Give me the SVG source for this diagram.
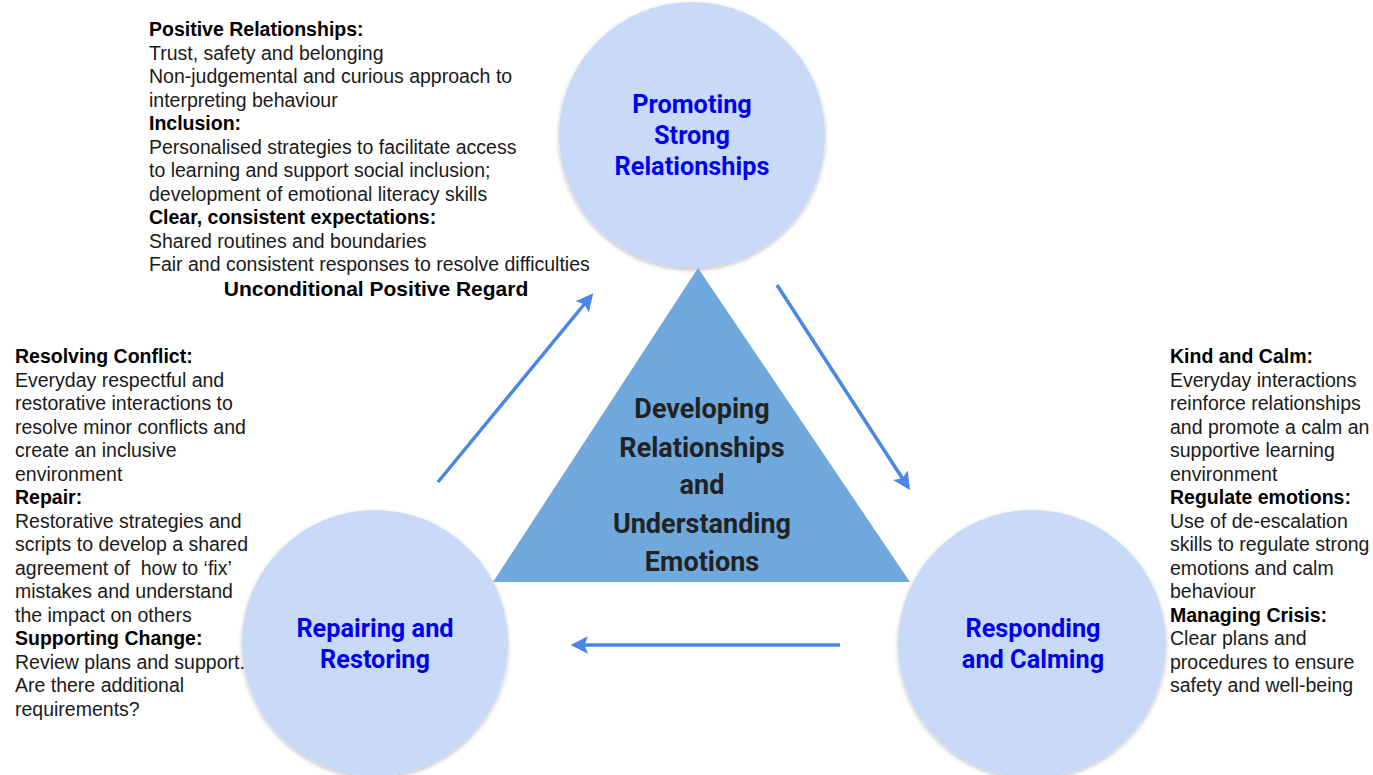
<svg xmlns="http://www.w3.org/2000/svg" width="1373" height="775" viewBox="0 0 1373 775">
<style>
.circ{fill:#c9daf8;filter:url(#sh)}
.clab{font-family:Roboto,"Liberation Sans",sans-serif;font-weight:bold;font-size:25.3px;fill:#0000f0;text-anchor:middle}
.tlab{font-family:Roboto,"Liberation Sans",sans-serif;font-weight:bold;font-size:27px;fill:#222222;text-anchor:middle}
.body{font-family:"Liberation Sans",Arial,sans-serif;font-size:19.5px;fill:#1a1a1a}
.b{font-weight:bold;fill:#000}
.conn{stroke:#4a86e8;stroke-width:3.5;fill:none;marker-end:url(#ah)}
</style>
<defs>
<filter id="sh" x="-10%" y="-10%" width="120%" height="125%">
<feDropShadow dx="0" dy="2" stdDeviation="2" flood-color="#000" flood-opacity="0.25"/>
</filter>
<marker id="ah" viewBox="0 0 10 10" refX="8" refY="5" markerWidth="5" markerHeight="5" orient="auto" markerUnits="strokeWidth">
<path d="M0,0 L10,5 L0,10 L2,5 z" fill="#4a86e8"/>
</marker>
</defs>
<rect width="1373" height="775" fill="#ffffff"/>

<g id="node-promoting">
<circle class="circ" cx="692" cy="135" r="133"/>
<text class="clab" x="692" y="113">Promoting</text>
<text class="clab" x="692" y="144">Strong</text>
<text class="clab" x="692" y="175">Relationships</text>
</g>

<g id="node-repairing">
<circle class="circ" cx="375" cy="643" r="133"/>
<text class="clab" x="375" y="637">Repairing and</text>
<text class="clab" x="375" y="668">Restoring</text>
</g>

<g id="node-responding">
<circle class="circ" cx="1032" cy="644" r="134"/>
<text class="clab" x="1033" y="637">Responding</text>
<text class="clab" x="1033" y="668">and Calming</text>
</g>

<g id="node-center">
<polygon points="698,268 910,582 493,582" fill="#6fa8dc"/>
<text class="tlab" x="702" y="418">Developing</text>
<text class="tlab" x="702" y="457">Relationships</text>
<text class="tlab" x="702" y="494">and</text>
<text class="tlab" x="702" y="533">Understanding</text>
<text class="tlab" x="702" y="571">Emotions</text>
</g>

<g id="connectors">
<line class="conn" x1="438" y1="482" x2="591" y2="296"/>
<line class="conn" x1="777" y1="285" x2="908" y2="487"/>
<line class="conn" x1="840" y1="645" x2="574" y2="645"/>
</g>

<g id="text-promoting">
<text class="body"><tspan class="b" x="149" y="36">Positive Relationships:</tspan><tspan x="149" y="59.5">Trust, safety and belonging</tspan><tspan x="149" y="83">Non-judgemental and curious approach to</tspan><tspan x="149" y="106.5">interpreting behaviour</tspan><tspan class="b" x="149" y="130">Inclusion:</tspan><tspan x="149" y="153.5">Personalised strategies to facilitate access</tspan><tspan x="149" y="177">to learning and support social inclusion;</tspan><tspan x="149" y="200.5">development of emotional literacy skills</tspan><tspan class="b" x="149" y="224">Clear, consistent expectations:</tspan><tspan x="149" y="247.5">Shared routines and boundaries</tspan><tspan x="149" y="271">Fair and consistent responses to resolve difficulties</tspan></text>
<text class="body b" x="376" y="296" text-anchor="middle" style="font-size:21px">Unconditional Positive Regard</text>
</g>

<g id="text-repairing">
<text class="body"><tspan class="b" x="15" y="363">Resolving Conflict:</tspan><tspan x="15" y="386.5">Everyday respectful and</tspan><tspan x="15" y="410">restorative interactions to</tspan><tspan x="15" y="433.5">resolve minor conflicts and</tspan><tspan x="15" y="457">create an inclusive</tspan><tspan x="15" y="480.5">environment</tspan><tspan class="b" x="15" y="504">Repair:</tspan><tspan x="15" y="527.5">Restorative strategies and</tspan><tspan x="15" y="551">scripts to develop a shared</tspan><tspan x="15" y="574.5">agreement of&#160; how to ‘fix’</tspan><tspan x="15" y="598">mistakes and understand</tspan><tspan x="15" y="621.5">the impact on others</tspan><tspan class="b" x="15" y="645">Supporting Change:</tspan><tspan x="15" y="668.5">Review plans and support.</tspan><tspan x="15" y="692">Are there additional</tspan><tspan x="15" y="715.5">requirements?</tspan></text>
</g>

<g id="text-responding">
<text class="body"><tspan class="b" x="1170" y="363">Kind and Calm:</tspan><tspan x="1170" y="386.5">Everyday interactions</tspan><tspan x="1170" y="410">reinforce relationships</tspan><tspan x="1170" y="433.5">and promote a calm an</tspan><tspan x="1170" y="457">supportive learning</tspan><tspan x="1170" y="480.5">environment</tspan><tspan class="b" x="1170" y="504">Regulate emotions:</tspan><tspan x="1170" y="527.5">Use of de-escalation</tspan><tspan x="1170" y="551">skills to regulate strong</tspan><tspan x="1170" y="574.5">emotions and calm</tspan><tspan x="1170" y="598">behaviour</tspan><tspan class="b" x="1170" y="621.5">Managing Crisis:</tspan><tspan x="1170" y="645">Clear plans and</tspan><tspan x="1170" y="668.5">procedures to ensure</tspan><tspan x="1170" y="692">safety and well-being</tspan></text>
</g>
</svg>
